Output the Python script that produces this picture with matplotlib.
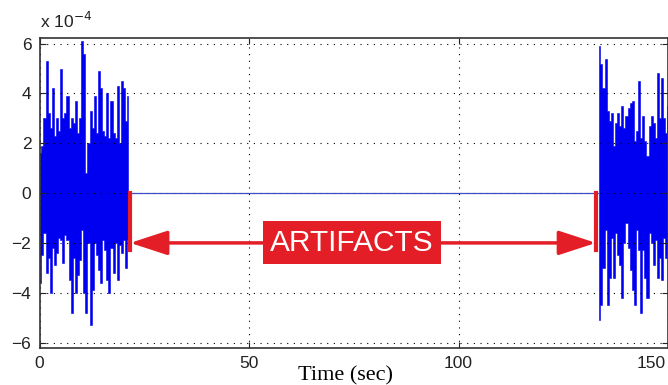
import numpy as np
import matplotlib
matplotlib.use('Agg')
import matplotlib.pyplot as plt
import matplotlib.transforms as mtransforms

# signal in units of 1e-4, read off the picture as max / min per 0.5 s
# left burst (0 - 21 s)
left_up = [1.6, 1.9, 3.0, 5.3, 3.2, 2.6, 4.2, 2.3, 3.0, 2.5,
           5.0, 3.0, 3.2, 3.9, 2.6, 3.0, 2.8, 3.7, 2.4, 3.0,
           6.1, 5.6, 0.8, 2.0, 3.3, 2.6, 3.9, 2.4, 4.9, 4.2,
           2.5, 2.3, 4.0, 2.2, 3.7, 2.4, 2.2, 4.3, 2.0, 4.5,
           4.2, 2.9, 3.9]
left_lo = [-3.6, -2.5, -1.6, -3.2, -2.6, -4.0, -2.2, -2.9, -2.4, -1.8,
           -1.9, -2.8, -1.7, -1.9, -3.5, -4.8, -2.6, -4.0, -3.3, -2.7,
           -1.5, -4.0, -4.8, -2.0, -5.3, -3.9, -2.0, -2.5, -3.1, -3.6,
           -1.9, -2.3, -3.5, -4.0, -2.2, -3.2, -2.0, -3.5, -2.1, -2.4,
           -1.9, -3.0, -1.9]
# right burst (133.5 - 150 s)
right_up = [5.9, 5.2, 4.2, 5.4, 3.3, 2.9, 3.2, 1.9, 2.8, 3.2,
            2.7, 3.5, 2.6, 3.1, 3.4, 3.6, 3.7, 2.1, 2.5, 4.5,
            2.2, 3.1, 2.1, 1.5, 2.7, 3.1, 2.8, 2.2, 4.8, 3.0,
            4.6, 3.0, 2.4, 3.5]
right_lo = [-5.1, -4.5, -3.0, -1.5, -4.5, -3.4, -1.8, -3.4, -1.6, -2.5,
            -2.9, -4.2, -2.0, -1.2, -2.2, -3.1, -3.9, -4.5, -1.5, -2.3,
            -4.8, -2.3, -3.4, -4.2, -1.6, -2.0, -2.9, -1.9, -3.4, -2.6,
            -3.5, -1.8, -2.6, -2.2]
# removed (artifact) stretch, flat at zero
flat_t = [21.2, 133.5]
flat_v = [0.0, 0.0]

t_left = np.arange(len(left_up)) * 0.5 + 0.15
t_right = 133.6 + np.arange(len(right_up)) * 0.5

art_start, art_end, art_level = 21.6, 132.8, -2.0
blue = '#0000f0'
red = '#e41e26'

fig = plt.figure(figsize=(6.68, 3.85), dpi=100)
ax = fig.add_axes([0.0594, 0.096, 0.9406, 0.805])

ax.plot(flat_t, flat_v, color='#3a4fc8', lw=0.9)
ax.fill_between(t_left, left_lo, left_up, step='mid', color=blue, lw=0.4)
ax.fill_between(t_right, right_lo, right_up, step='mid', color=blue, lw=0.4)

# red markers of the artifact stretch
ax.plot([art_start, art_start], [0, -2.3], color=red, lw=3)
ax.plot([art_end, art_end], [0, -2.3], color=red, lw=3)
ax.annotate('', xy=(art_start, art_level), xytext=(art_end, art_level),
            arrowprops=dict(arrowstyle='<|-|>,head_length=2.3,head_width=0.75',
                            lw=2.5, color=red, shrinkA=0, shrinkB=0))
ax.text((art_start + art_end) / 2 - 2.6, art_level, 'ARTIFACTS',
        color='white', fontsize=21.5, family='Liberation Sans',
        ha='center', va='center',
        bbox=dict(boxstyle='square,pad=0.25', fc=red, ec='none'))

ax.set_xlim(0, 150)
ax.set_ylim(-6.22, 6.22)
ax.set_xticks([0, 50, 100, 150])
ax.set_yticks([-6, -4, -2, 0, 2, 4, 6])
ax.grid(True, color='black', linestyle=(0, (1, 5)), lw=0.8)
ax.tick_params(direction='in', top=True, right=True, length=4,
               labelsize=12.5, pad=6, colors='#222222')
for lab in ax.get_xticklabels() + ax.get_yticklabels():
    lab.set_family('Liberation Sans')
last = ax.get_xticklabels()[-1]
last.set_horizontalalignment('right')
last.set_transform(last.get_transform() +
                   mtransforms.ScaledTranslation(-2 / 100, 0, fig.dpi_scale_trans))
for s in ax.spines.values():
    s.set_color('#333333')
    s.set_linewidth(1.2)

ax.set_xlabel('Time (sec)', family='Liberation Serif', fontsize=16)
ax.xaxis.set_label_coords(0.486, -0.058)
fig.text(40 / 668, 1 - 28 / 385, r'x 10$^{-4}$', fontsize=12.5,
         family='Liberation Sans', color='#222222', va='baseline')

fig.savefig('out.png', dpi=100)
